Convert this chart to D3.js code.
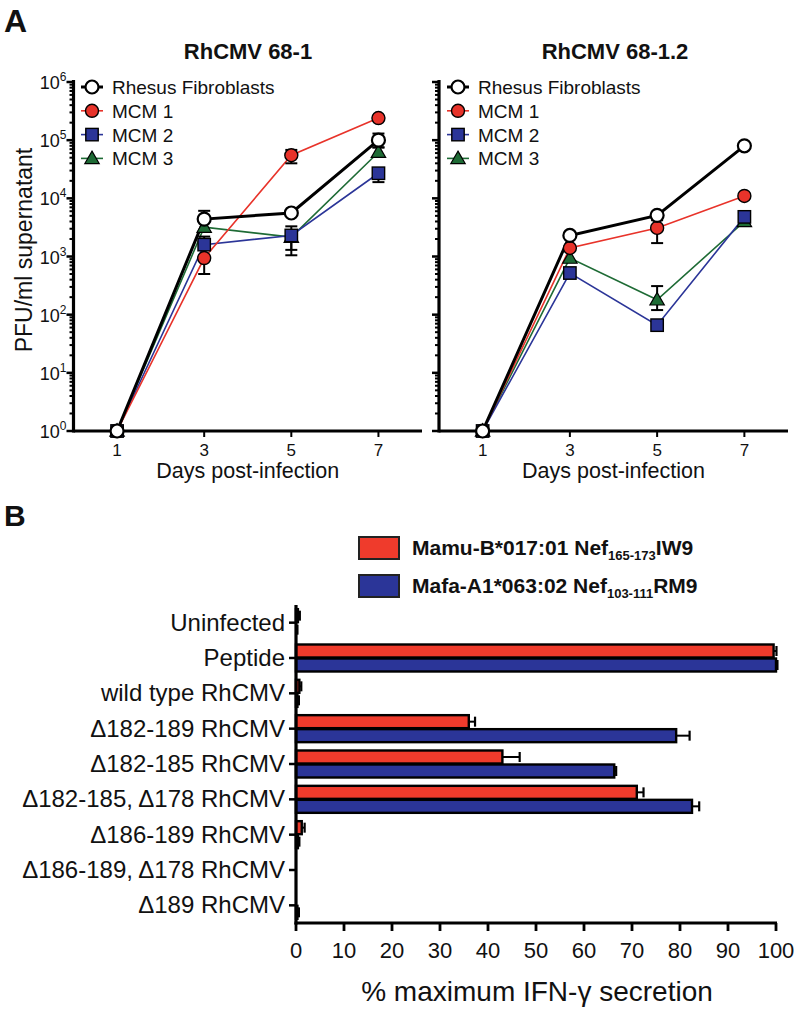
<!DOCTYPE html>
<html><head><meta charset="utf-8">
<script src="https://cdn.jsdelivr.net/npm/d3@7"></script>
<style>
body{margin:0;background:#fff;}
svg text{font-family:"Liberation Sans",Arial,sans-serif;fill:#111;}
</style></head>
<body><svg id="c" width="800" height="1013"></svg>
<script>
// ---------- Panel A data ----------
const days = [1, 3, 5, 7];
const seriesNames = ["Rhesus Fibroblasts", "MCM 1", "MCM 2", "MCM 3"];
const seriesColors = ["#000000", "#e8332a", "#2b3598", "#1e6b35"];
const seriesShapes = ["circleOpen", "circle", "square", "triangle"];
const yTickExps = [0, 1, 2, 3, 4, 5, 6];
const xTickDays = [1, 3, 5, 7];

// RhCMV 68-1
const a_rf = [1, 4400, 5600, 100000];
const a_rfLo = [1, 4400, 5600, 75000];
const a_rfHi = [1, 6100, 5600, 130000];
const a_m1 = [1, 940, 55000, 240000];
const a_m1Lo = [1, 500, 40000, 240000];
const a_m1Hi = [1, 940, 68000, 240000];
const a_m2 = [1, 1600, 2300, 27000];
const a_m2Lo = [1, 1600, 1300, 19000];
const a_m2Hi = [1, 2200, 3300, 27000];
const a_m3 = [1, 3200, 2150, 62000];
const a_m3Lo = [1, 3200, 1050, 62000];
const a_m3Hi = [1, 3200, 2150, 75000];

// RhCMV 68-1.2
const b_rf = [1, 2300, 5100, 80000];
const b_rfLo = [1, 2300, 5100, 80000];
const b_rfHi = [1, 2300, 5100, 80000];
const b_m1 = [1, 1400, 3100, 11000];
const b_m1Lo = [1, 1400, 1700, 11000];
const b_m1Hi = [1, 1400, 4200, 11000];
const b_m2 = [1, 520, 66, 4800];
const b_m2Lo = [1, 520, 60, 4800];
const b_m2Hi = [1, 520, 75, 5600];
const b_m3 = [1, 940, 180, 4000];
const b_m3Lo = [1, 940, 120, 4000];
const b_m3Hi = [1, 940, 310, 4000];

// ---------- Panel B data ----------
const categories = ["Uninfected", "Peptide", "wild type RhCMV", "\u0394182-189 RhCMV", "\u0394182-185 RhCMV",
  "\u0394182-185, \u0394178 RhCMV", "\u0394186-189 RhCMV", "\u0394186-189, \u0394178 RhCMV", "\u0394189 RhCMV"];
const redVals = [0.4, 99.5, 0.7, 36, 43, 71, 1.2, 0, 0];
const redErr = [0.4, 0.6, 0.4, 1.3, 3.6, 1.4, 0.6, 0, 0];
const blueVals = [0, 100, 0.3, 79.2, 66.3, 82.5, 0.4, 0, 0.3];
const blueErr = [0.3, 0.3, 0.3, 2.8, 0.4, 1.5, 0.3, 0, 0.3];
const barXTicks = [0, 10, 20, 30, 40, 50, 60, 70, 80, 90, 100];
const legendB = [
  {pre: "Mamu-B*017:01 Nef", sub: "165-173", post: "IW9", color: "#ef3b2c"},
  {pre: "Mafa-A1*063:02 Nef", sub: "103-111", post: "RM9", color: "#2b3598"}
];

const svg = d3.select("#c");

// panel letters
svg.append("text").attr("x", 4).attr("y", 32).attr("font-size", 32).attr("font-weight", "bold").text("A");
svg.append("text").attr("x", 4).attr("y", 526).attr("font-size", 30).attr("font-weight", "bold").text("B");

function drawLinePanel(cfg) {
  const g = svg.append("g");
  const x = d3.scaleLinear().domain([0, 8]).range([cfg.x0, cfg.x1]);
  const y = d3.scaleLog().domain([1, 1e6]).range([431, 82]);
  // title
  g.append("text").attr("x", cfg.titleX).attr("y", 59).attr("text-anchor", "middle")
    .attr("font-size", 22).attr("font-weight", "bold").text(cfg.title);
  // y axis minor ticks
  const minor = [];
  for (let e = 0; e < 6; e++) for (let m = 2; m <= 9; m++) minor.push(m * Math.pow(10, e));
  g.selectAll(".mn").data(minor).join("line")
    .attr("x1", cfg.x0 - 4).attr("x2", cfg.x0).attr("y1", d => y(d)).attr("y2", d => y(d))
    .attr("stroke", "#000").attr("stroke-width", 2);
  g.selectAll(".mj").data(yTickExps).join("line")
    .attr("x1", cfg.x0 - 7).attr("x2", cfg.x0).attr("y1", d => y(Math.pow(10, d))).attr("y2", d => y(Math.pow(10, d)))
    .attr("stroke", "#000").attr("stroke-width", 2.5);
  if (cfg.labels) {
    yTickExps.forEach(e => {
      const t = g.append("text").attr("x", cfg.x0 - 7).attr("y", y(Math.pow(10, e)) + 7)
        .attr("text-anchor", "end").attr("font-size", 18);
      t.append("tspan").text("10");
      t.append("tspan").attr("font-size", 12).attr("dy", -8).text(e);
    });
    g.append("text").attr("transform", `translate(32,250) rotate(-90)`).attr("text-anchor", "middle")
      .attr("font-size", 23).text("PFU/ml supernatant");
  }
  // axes lines
  g.append("line").attr("x1", cfg.x0).attr("x2", cfg.x0).attr("y1", 80).attr("y2", 432.5)
    .attr("stroke", "#000").attr("stroke-width", 3.2);
  g.append("line").attr("x1", cfg.x0).attr("x2", cfg.x1).attr("y1", 431).attr("y2", 431)
    .attr("stroke", "#000").attr("stroke-width", 3.2);
  g.selectAll(".xt").data(xTickDays).join("line")
    .attr("x1", d => x(d)).attr("x2", d => x(d)).attr("y1", 431).attr("y2", 437)
    .attr("stroke", "#000").attr("stroke-width", 2);
  g.selectAll(".xl").data(xTickDays).join("text")
    .attr("x", d => x(d)).attr("y", 456).attr("text-anchor", "middle").attr("font-size", 17).text(d => d);
  g.append("text").attr("x", x(4)).attr("y", 478).attr("text-anchor", "middle").attr("font-size", 21.5)
    .text("Days post-infection");

  const line = d3.line().x(d => x(d[0])).y(d => y(d[1]));
  const order = [3, 2, 1, 0];
  order.forEach(i => {
    const s = cfg.series[i];
    const pts = days.map((d, k) => [d, s.v[k]]);
    g.append("path").attr("d", line(pts)).attr("fill", "none")
      .attr("stroke", seriesColors[i]).attr("stroke-width", i === 0 ? 3 : 1.6);
  });
  // error bars
  order.forEach(i => {
    const s = cfg.series[i];
    days.forEach((d, k) => {
      const lo = s.lo[k], hi = s.hi[k];
      if (hi > s.v[k] * 1.05) {
        g.append("line").attr("x1", x(d)).attr("x2", x(d)).attr("y1", y(s.v[k])).attr("y2", y(hi)).attr("stroke", "#000").attr("stroke-width", 2);
        g.append("line").attr("x1", x(d) - 6).attr("x2", x(d) + 6).attr("y1", y(hi)).attr("y2", y(hi)).attr("stroke", "#000").attr("stroke-width", 2);
      }
      if (lo < s.v[k] / 1.05) {
        g.append("line").attr("x1", x(d)).attr("x2", x(d)).attr("y1", y(s.v[k])).attr("y2", y(lo)).attr("stroke", "#000").attr("stroke-width", 2);
        g.append("line").attr("x1", x(d) - 6).attr("x2", x(d) + 6).attr("y1", y(lo)).attr("y2", y(lo)).attr("stroke", "#000").attr("stroke-width", 2);
      }
    });
  });
  // markers
  order.forEach(i => {
    const s = cfg.series[i];
    days.forEach((d, k) => drawMarker(g, seriesShapes[i], seriesColors[i], x(d), y(s.v[k])));
  });
  // legend
  seriesNames.forEach((n, i) => {
    const ly = 87 + i * 23.8;
    g.append("line").attr("x1", cfg.legX - 11).attr("x2", cfg.legX + 11).attr("y1", ly).attr("y2", ly)
      .attr("stroke", seriesColors[i]).attr("stroke-width", i === 0 ? 3 : 1.6);
    drawMarker(g, seriesShapes[i], seriesColors[i], cfg.legX, ly);
    g.append("text").attr("x", cfg.legX + 20).attr("y", ly + 7).attr("font-size", 19).text(n);
  });
}

function drawMarker(g, shape, color, cx, cy) {
  if (shape === "circleOpen") {
    g.append("circle").attr("cx", cx).attr("cy", cy).attr("r", 6.5).attr("fill", "#fff").attr("stroke", "#000").attr("stroke-width", 2.2);
  } else if (shape === "circle") {
    g.append("circle").attr("cx", cx).attr("cy", cy).attr("r", 6.5).attr("fill", color).attr("stroke", "#000").attr("stroke-width", 1.4);
  } else if (shape === "square") {
    g.append("rect").attr("x", cx - 6.2).attr("y", cy - 6.2).attr("width", 12.4).attr("height", 12.4).attr("fill", color).attr("stroke", "#000").attr("stroke-width", 1.4);
  } else {
    const p = d3.symbol().type(d3.symbolTriangle).size(90)();
    g.append("path").attr("d", p).attr("transform", `translate(${cx},${cy + 1})`).attr("fill", color).attr("stroke", "#000").attr("stroke-width", 1.2);
  }
}

drawLinePanel({
  x0: 73.5, x1: 422, titleX: 248, title: "RhCMV 68-1", labels: true, legX: 92,
  series: [
    {v: a_rf, lo: a_rfLo, hi: a_rfHi}, {v: a_m1, lo: a_m1Lo, hi: a_m1Hi},
    {v: a_m2, lo: a_m2Lo, hi: a_m2Hi}, {v: a_m3, lo: a_m3Lo, hi: a_m3Hi}]
});
drawLinePanel({
  x0: 439, x1: 788, titleX: 615, title: "RhCMV 68-1.2", labels: false, legX: 458,
  series: [
    {v: b_rf, lo: b_rfLo, hi: b_rfHi}, {v: b_m1, lo: b_m1Lo, hi: b_m1Hi},
    {v: b_m2, lo: b_m2Lo, hi: b_m2Hi}, {v: b_m3, lo: b_m3Lo, hi: b_m3Hi}]
});

// ---------- Panel B ----------
(function () {
  const g = svg.append("g");
  const x = d3.scaleLinear().domain([0, 100]).range([296, 776]);
  const y = d3.scaleBand().domain(categories).range([605, 923]);
  const bh = 13;
  categories.forEach((c, i) => {
    const cy = y(c) + y.bandwidth() / 2;
    if (redVals[i] > 0) {
      g.append("rect").attr("x", x(0)).attr("y", cy - bh - 0.5).attr("width", x(redVals[i]) - x(0)).attr("height", bh)
        .attr("fill", "#ef3b2c").attr("stroke", "#000").attr("stroke-width", 2.4);
    }
    if (blueVals[i] > 0) {
      g.append("rect").attr("x", x(0)).attr("y", cy + 0.5).attr("width", x(blueVals[i]) - x(0)).attr("height", bh)
        .attr("fill", "#2b3598").attr("stroke", "#000").attr("stroke-width", 2.4);
    }
    [[redVals[i], redErr[i], cy - bh / 2 - 0.5], [blueVals[i], blueErr[i], cy + bh / 2 + 0.5]].forEach(([v, e, yy]) => {
      if (e > 0) {
        g.append("line").attr("x1", x(v)).attr("x2", x(v + e)).attr("y1", yy).attr("y2", yy).attr("stroke", "#000").attr("stroke-width", 2);
        g.append("line").attr("x1", x(v + e)).attr("x2", x(v + e)).attr("y1", yy - 5).attr("y2", yy + 5).attr("stroke", "#000").attr("stroke-width", 2.2);
      }
    });
    g.append("line").attr("x1", x(0) - 7).attr("x2", x(0)).attr("y1", cy).attr("y2", cy).attr("stroke", "#000").attr("stroke-width", 2.5);
    g.append("text").attr("x", x(0) - 11).attr("y", cy + 8).attr("text-anchor", "end").attr("font-size", 24).text(c);
  });
  g.append("line").attr("x1", x(0)).attr("x2", x(0)).attr("y1", 605).attr("y2", 924.5).attr("stroke", "#000").attr("stroke-width", 3.2);
  g.append("line").attr("x1", x(0) - 1.5).attr("x2", x(100) + 1).attr("y1", 923).attr("y2", 923).attr("stroke", "#000").attr("stroke-width", 3.2);
  g.selectAll(".bt").data(barXTicks).join("line")
    .attr("x1", d => x(d)).attr("x2", d => x(d)).attr("y1", 923).attr("y2", 931)
    .attr("stroke", "#000").attr("stroke-width", 2.8);
  g.selectAll(".bl").data(barXTicks).join("text")
    .attr("x", d => x(d)).attr("y", 958).attr("text-anchor", "middle").attr("font-size", 22).text(d => d);
  g.append("text").attr("x", 537).attr("y", 1001).attr("text-anchor", "middle").attr("font-size", 28)
    .text("% maximum IFN-\u03b3 secretion");
  legendB.forEach((L, i) => {
    const ly = 537 + i * 38;
    g.append("rect").attr("x", 359).attr("y", ly).attr("width", 40).attr("height", 22)
      .attr("fill", L.color).attr("stroke", "#222").attr("stroke-width", 2);
    const t = g.append("text").attr("x", 412).attr("y", ly + 18).attr("font-size", 21).attr("font-weight", "bold");
    t.append("tspan").text(L.pre);
    t.append("tspan").attr("font-size", 13).attr("dy", 5).text(L.sub);
    t.append("tspan").attr("dy", -5).text(L.post);
  });
})();
</script></body></html>
